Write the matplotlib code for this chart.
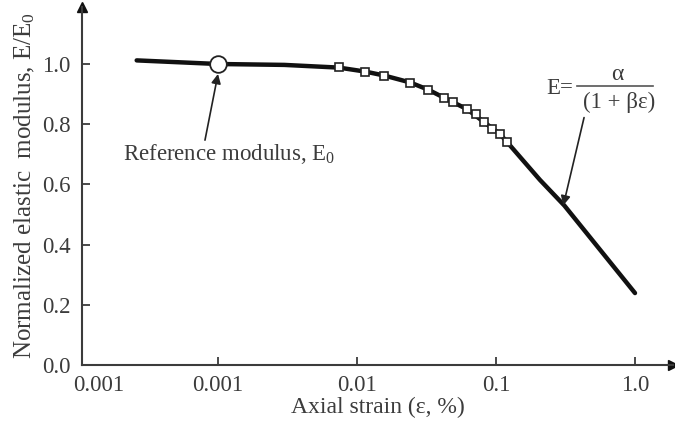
import numpy as np
import matplotlib
matplotlib.use("Agg")
import matplotlib.pyplot as plt
from matplotlib.lines import Line2D

plt.rcParams['font.family'] = ['Liberation Serif', 'DejaVu Serif']
plt.rcParams['mathtext.fontset'] = 'custom'
plt.rcParams['mathtext.rm'] = 'Liberation Serif'
plt.rcParams['mathtext.it'] = 'Liberation Serif:italic'

# fitted curve
curve_x = [0.00026, 0.001, 0.003, 0.0074, 0.0114, 0.0156, 0.024, 0.0324, 0.0423,
           0.0618, 0.0820, 0.107, 0.120, 0.207, 0.31, 1.0]
curve_y = [1.012, 1.0, 0.997, 0.988, 0.975, 0.962, 0.939, 0.915, 0.888,
           0.850, 0.807, 0.767, 0.741, 0.615, 0.53, 0.239]
# measured points
pts_x = [0.0074, 0.0114, 0.0156, 0.024, 0.0324, 0.0423, 0.0491, 0.0618, 0.0718,
         0.0820, 0.0936, 0.107, 0.120]
pts_y = [0.990, 0.973, 0.960, 0.937, 0.914, 0.887, 0.874, 0.850, 0.834,
         0.807, 0.784, 0.767, 0.741]
ref_x, ref_y = 0.001, 1.0

xtick_vals = [10**-3.86, 1e-3, 1e-2, 1e-1, 1.0]
xtick_labels = ['0.001', '0.001', '0.01', '0.1', '1.0']
ytick_vals = [0.0, 0.2, 0.4, 0.6, 0.8, 1.0]
ytick_labels = ['0.0', '0.2', '0.4', '0.6', '0.8', '1.0']

W, H = 675, 424
fig = plt.figure(figsize=(6.75, 4.24), dpi=100)
ax = fig.add_axes([82/W, 1-365/H, (673-82)/W, (365-7)/H])
ax.set_xscale('log')
ax.set_xlim(10**(-3-(218-82)/139), 10**((673-635)/139))
ax.set_ylim(0, (365-7)/301)

tc = '#3c3c3c'
ax.plot(curve_x, curve_y, color='#111111', lw=3.2, solid_capstyle='round', zorder=2)
ax.plot(pts_x, pts_y, ls='none', marker='s', ms=5.5, mfc='white', mec='#222222', mew=1.2, zorder=3)
ax.plot([ref_x], [ref_y], ls='none', marker='o', ms=12, mfc='white', mec='#222222', mew=1.3, zorder=4)

for s in ['top', 'right']:
    ax.spines[s].set_visible(False)
for s in ['left', 'bottom']:
    ax.spines[s].set_color(tc)
    ax.spines[s].set_linewidth(1.5)

ax.set_xticks(xtick_vals)
ax.set_xticklabels(xtick_labels)
ax.xaxis.set_minor_locator(matplotlib.ticker.NullLocator())
ax.set_yticks(ytick_vals)
ax.set_yticklabels(ytick_labels)
ax.tick_params(direction='in', length=6, width=1.3, color=tc, labelcolor=tc, labelsize=16.5)
ax.tick_params(axis='x', pad=7)
ax.tick_params(axis='y', pad=8)
ax.xaxis.get_major_ticks()[0].tick1line.set_visible(False)

# axis arrows
ax.plot(1, 0, '>', color='#111111', ms=7, transform=ax.transAxes, clip_on=False)
ax.plot(0, 1, '^', color='#111111', ms=7, transform=ax.transAxes, clip_on=False)

ax.set_xlabel('Axial strain (ε, %)', fontsize=17, color=tc, labelpad=1)
ax.set_ylabel(r'Normalized elastic  modulus, E/E$_\mathrm{0}$', fontsize=18, color=tc, labelpad=4)

ax.text(0.0012, 0.70, r'Reference modulus, E$_\mathrm{0}$', fontsize=16.5, color=tc,
        ha='center', va='center')
ax.annotate('', xy=(ref_x, 0.967), xytext=(0.000806, 0.747),
            arrowprops=dict(arrowstyle='-|>', color='#222222', lw=1.2, mutation_scale=14,
                            shrinkA=0, shrinkB=0))

# formula E = alpha / (1 + beta eps)
fig.text(560/W, 1-88/H, 'E=', fontsize=16.5, color=tc, ha='center', va='center')
fig.add_artist(Line2D([577/W, 653/W], [1-86/H, 1-86/H], color='#555555', lw=1.2,
                      transform=fig.transFigure))
fig.text(617/W, 1-74/H, 'α', fontsize=17, color=tc, ha='center', va='center')
fig.text(619/W, 1-102/H, '(1 + βε)', fontsize=16.5, color=tc, ha='center', va='center')

ax.annotate('', xy=(0.305, 0.53), xytext=(0.43, 0.822),
            arrowprops=dict(arrowstyle='-|>', color='#222222', lw=1.2, mutation_scale=14,
                            shrinkA=0, shrinkB=0))

fig.savefig('out.png', dpi=100)
